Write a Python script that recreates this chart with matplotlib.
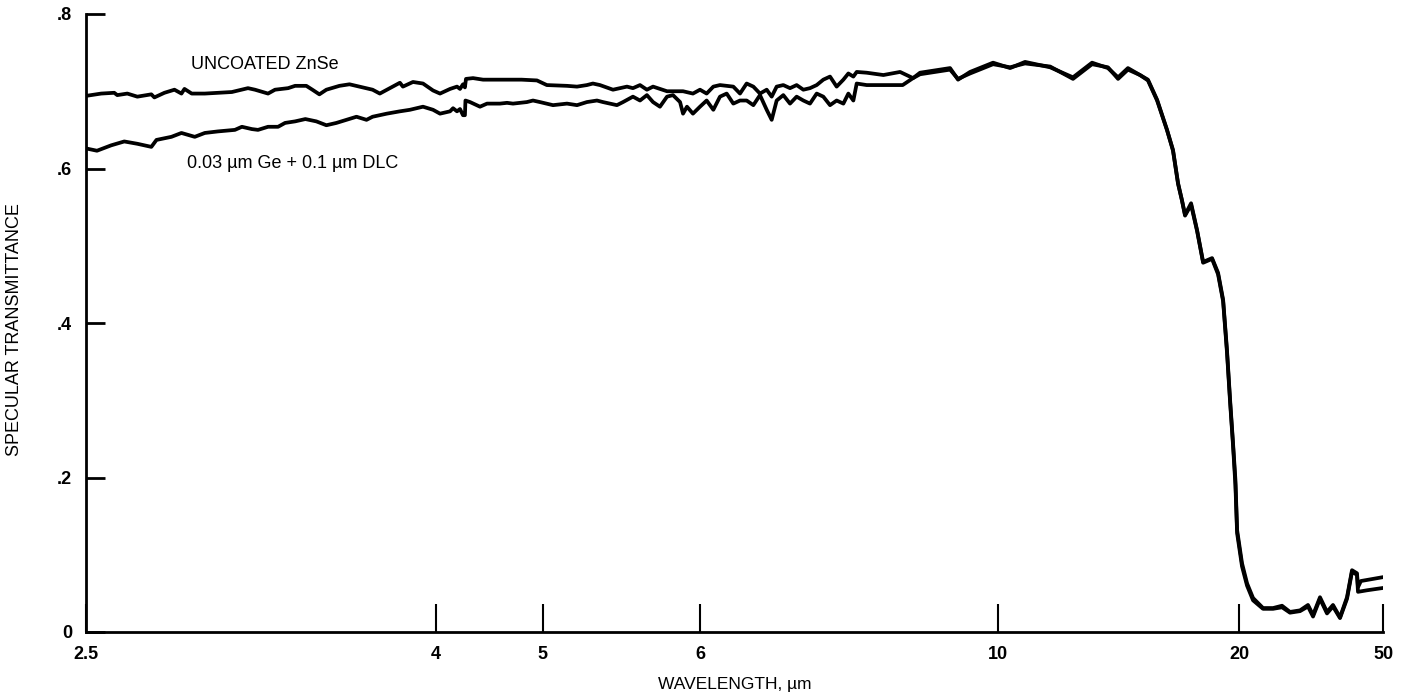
import numpy as np
import matplotlib
matplotlib.use("Agg")
import matplotlib.pyplot as plt

plt.rcParams['font.family'] = ['Liberation Sans', 'DejaVu Sans']

# wavelength (um) and specular transmittance
wl_uncoated = [2.500, 2.565, 2.621, 2.634, 2.677, 2.720, 2.780, 2.793, 2.836, 2.879,
               2.909, 2.922, 2.953, 3.009, 3.065, 3.125, 3.194, 3.224, 3.280, 3.310,
               3.366, 3.396, 3.444, 3.470, 3.500, 3.530, 3.586, 3.629, 3.672, 3.728,
               3.759, 3.802, 3.845, 3.858, 3.901, 3.944, 3.987, 4.037, 4.131, 4.196,
               4.224, 4.252, 4.270, 4.280, 4.346, 4.440, 4.600, 4.800, 4.944, 5.025,
               5.153, 5.217, 5.280, 5.318, 5.363, 5.446, 5.490, 5.535, 5.573, 5.618,
               5.662, 5.701, 5.745, 5.790, 5.854, 5.892, 5.955,
               6.000, 6.089, 6.179, 6.268, 6.358, 6.447, 6.537, 6.626, 6.716, 6.805,
               6.895, 6.962, 7.029, 7.118, 7.208, 7.297, 7.387, 7.476, 7.566, 7.655,
               7.745, 7.834, 7.924, 7.991, 8.058, 8.103, 8.237, 8.461, 8.685, 8.859,
               8.953, 9.356, 9.463, 9.624, 9.933, 10.50, 11.12, 12.16, 13.11, 13.90,
               14.56, 14.98, 15.39, 15.89, 16.22, 16.60, 17.01, 17.26, 17.47, 17.63,
               17.76, 18.01, 18.26, 18.51, 18.88, 19.13, 19.34, 19.50, 19.63, 19.75,
               19.85, 19.92, 20.62, 21.67, 22.92, 25.00, 27.08, 28.96, 30.62, 32.71,
               34.37, 35.42, 36.87, 38.33, 39.58, 41.04, 42.50, 43.54, 44.58, 44.79,
               45.40, 50.00]
t_uncoated = [0.694, 0.697, 0.698, 0.695, 0.697, 0.693, 0.696, 0.692, 0.698, 0.702,
              0.697, 0.703, 0.697, 0.697, 0.698, 0.699, 0.704, 0.702, 0.697, 0.702,
              0.704, 0.707, 0.707, 0.702, 0.696, 0.702, 0.707, 0.709, 0.706, 0.702,
              0.697, 0.704, 0.711, 0.706, 0.712, 0.710, 0.701, 0.697, 0.703, 0.706,
              0.703, 0.709, 0.705, 0.716, 0.717, 0.715, 0.715, 0.715, 0.714, 0.708,
              0.707, 0.706, 0.708, 0.710, 0.708, 0.702, 0.704, 0.706, 0.704, 0.708,
              0.702, 0.706, 0.703, 0.700, 0.700, 0.700, 0.697,
              0.702, 0.697, 0.706, 0.708, 0.707, 0.706, 0.697, 0.710, 0.706, 0.697,
              0.702, 0.693, 0.706, 0.708, 0.704, 0.708, 0.702, 0.704, 0.708, 0.715,
              0.719, 0.706, 0.715, 0.723, 0.719, 0.725, 0.724, 0.721, 0.725, 0.717,
              0.724, 0.730, 0.715, 0.725, 0.737, 0.730, 0.738, 0.731, 0.718, 0.737,
              0.730, 0.718, 0.730, 0.721, 0.715, 0.689, 0.650, 0.624, 0.581, 0.559,
              0.540, 0.555, 0.520, 0.479, 0.484, 0.465, 0.430, 0.365, 0.300, 0.245,
              0.197, 0.132, 0.089, 0.063, 0.044, 0.031, 0.031, 0.034, 0.026, 0.028,
              0.035, 0.022, 0.045, 0.026, 0.035, 0.019, 0.045, 0.080, 0.076, 0.058,
              0.066, 0.071]

wl_coated = [2.500, 2.547, 2.608, 2.664, 2.720, 2.780, 2.802, 2.866, 2.909, 2.966,
             3.009, 3.065, 3.138, 3.168, 3.211, 3.237, 3.280, 3.323, 3.353, 3.396,
             3.440, 3.487, 3.530, 3.573, 3.616, 3.659, 3.702, 3.728, 3.789, 3.845,
             3.888, 3.944, 3.987, 4.037, 4.131, 4.159, 4.196, 4.224, 4.252, 4.270,
             4.275, 4.318, 4.411, 4.477, 4.598, 4.664, 4.720, 4.850, 4.907, 4.972,
             5.064, 5.153, 5.217, 5.280, 5.344, 5.382, 5.427, 5.471, 5.510, 5.573,
             5.618, 5.662, 5.701, 5.745, 5.790, 5.828, 5.873, 5.892, 5.917, 5.955,
             6.000, 6.089, 6.179, 6.268, 6.358, 6.447, 6.537, 6.626, 6.716, 6.805,
             6.895, 6.962, 7.029, 7.118, 7.208, 7.297, 7.387, 7.476, 7.566, 7.655,
             7.745, 7.834, 7.924, 7.991, 8.058, 8.103, 8.237, 8.461, 8.720, 8.859,
             8.953, 9.356, 9.463, 9.624, 9.933, 10.50, 11.12, 12.16, 13.11, 13.90,
             14.56, 14.98, 15.39, 15.89, 16.22, 16.60, 17.01, 17.26, 17.47, 17.63,
             17.76, 18.01, 18.26, 18.51, 18.88, 19.13, 19.34, 19.50, 19.63, 19.75,
             19.85, 19.92, 20.62, 21.67, 22.92, 25.00, 27.08, 28.96, 30.62, 32.71,
             34.37, 35.42, 36.87, 38.33, 39.58, 41.04, 42.50, 43.54, 44.58, 44.79,
             46.67, 50.00]
t_coated = [0.626, 0.623, 0.630, 0.635, 0.632, 0.628, 0.637, 0.641, 0.646, 0.641,
            0.646, 0.648, 0.650, 0.654, 0.651, 0.650, 0.654, 0.654, 0.659, 0.661,
            0.664, 0.661, 0.656, 0.659, 0.663, 0.667, 0.663, 0.667, 0.671, 0.674,
            0.676, 0.680, 0.676, 0.671, 0.674, 0.678, 0.674, 0.677, 0.669, 0.669,
            0.688, 0.686, 0.680, 0.684, 0.684, 0.685, 0.684, 0.686, 0.688, 0.686,
            0.682, 0.684, 0.682, 0.686, 0.688, 0.686, 0.684, 0.682, 0.686, 0.693,
            0.688, 0.695, 0.686, 0.680, 0.693, 0.695, 0.686, 0.671, 0.680, 0.671,
            0.680, 0.688, 0.676, 0.693, 0.697, 0.684, 0.688, 0.688, 0.682, 0.695,
            0.676, 0.663, 0.688, 0.695, 0.684, 0.693, 0.688, 0.684, 0.697, 0.693,
            0.682, 0.688, 0.684, 0.697, 0.688, 0.710, 0.708, 0.708, 0.708, 0.717,
            0.722, 0.728, 0.716, 0.723, 0.735, 0.731, 0.736, 0.732, 0.716, 0.735,
            0.731, 0.716, 0.728, 0.721, 0.714, 0.688, 0.650, 0.623, 0.580, 0.559,
            0.539, 0.553, 0.519, 0.478, 0.483, 0.463, 0.428, 0.362, 0.297, 0.242,
            0.190, 0.128, 0.085, 0.060, 0.041, 0.030, 0.030, 0.032, 0.025, 0.027,
            0.033, 0.020, 0.043, 0.024, 0.033, 0.018, 0.043, 0.078, 0.074, 0.052,
            0.054, 0.057]

x_ticks = [2.5, 4, 5, 6, 10, 20, 50]
x_ticklabels = ['2.5', '4', '5', '6', '10', '20', '50']
y_ticks = [0, 0.2, 0.4, 0.6, 0.8]
y_ticklabels = ['0', '.2', '.4', '.6', '.8']

# the chart paper is neither linear nor log: place each tick where the paper has it
tick_frac = [0.0, 0.2699, 0.3523, 0.4734, 0.7032, 0.8890, 1.0]

xn = np.array(x_ticks, float)
fr = np.array(tick_frac)
s0 = (fr[1] - fr[0]) / (xn[1] - xn[0])
s1 = (fr[-1] - fr[-2]) / (xn[-1] - xn[-2])
xn_ext = np.r_[xn[0] - 1e4, xn, xn[-1] + 1e4]
fr_ext = np.r_[fr[0] - 1e4 * s0, fr, fr[-1] + 1e4 * s1]


def fwd(x):
    return np.interp(np.asarray(x, float), xn_ext, fr_ext)


def inv(y):
    return np.interp(np.asarray(y, float), fr_ext, xn_ext)


W, H = 1408, 695
fig = plt.figure(figsize=(W / 100, H / 100), dpi=100)
ax = fig.add_axes([86 / W, 1 - 632 / H, 1297 / W, 618 / H])
ax.set_xscale('function', functions=(fwd, inv))

ax.plot(wl_uncoated, t_uncoated, color='black', lw=2.7, solid_joinstyle='round')
ax.plot(wl_coated, t_coated, color='black', lw=2.7, solid_joinstyle='round')

ax.set_xlim(2.5, 50)
ax.set_ylim(0, 0.8)
ax.set_xticks(x_ticks)
ax.set_xticklabels(x_ticklabels, fontweight='bold')
ax.set_yticks(y_ticks)
ax.set_yticklabels(y_ticklabels, fontweight='bold')
ax.minorticks_off()

for s in ['top', 'right']:
    ax.spines[s].set_visible(False)
for s in ['left', 'bottom']:
    ax.spines[s].set_linewidth(2.0)

ax.tick_params(axis='x', direction='in', length=20, width=1.5, pad=10, labelsize=13)
ax.tick_params(axis='y', direction='in', length=14, width=2.0, pad=10, labelsize=13)

ax.text(2.948, 0.734, 'UNCOATED ZnSe', fontsize=13, ha='left', va='center')
ax.text(2.931, 0.607, '0.03 \u00b5m Ge + 0.1 \u00b5m DLC', fontsize=13, ha='left', va='center')

fig.text(15 / W, 1 - 330 / H, 'SPECULAR TRANSMITTANCE', rotation=90,
         fontsize=13, ha='center', va='center')
fig.text(735 / W, 1 - 684 / H, 'WAVELENGTH, \u00b5m', fontsize=12.5, ha='center', va='center')

fig.savefig('out.png', dpi=100)
